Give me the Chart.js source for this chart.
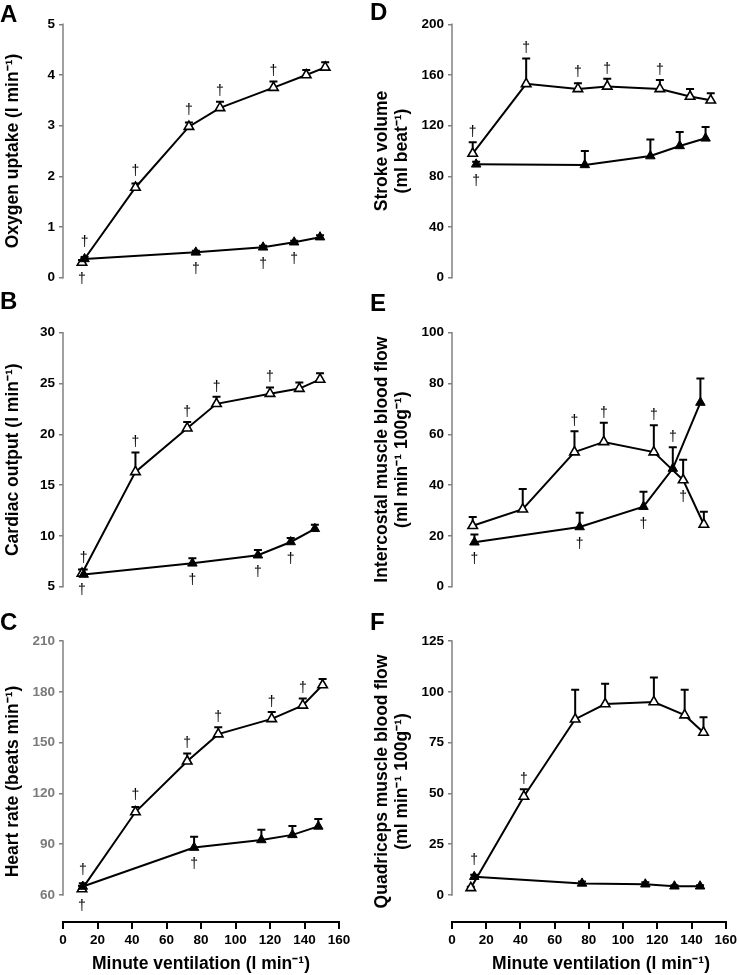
<!DOCTYPE html>
<html>
<head>
<meta charset="utf-8">
<script src="https://cdn.jsdelivr.net/npm/chart.js@4.4.1/dist/chart.umd.min.js"></script>
<style>
  html, body { margin: 0; padding: 0; background: #fff; }
  #fig { position: relative; width: 740px; height: 975px; overflow: hidden; font-family: "Liberation Sans", Arial, sans-serif; }
  canvas { position: absolute; }
  .letter { position: absolute; font-weight: bold; font-size: 24px; line-height: 1; color: #000; }
</style>
</head>
<body>
<div id="fig">
  <canvas id="chartA" width="370" height="300" style="left:0;top:0"></canvas>
  <canvas id="chartB" width="370" height="320" style="left:0;top:300px"></canvas>
  <canvas id="chartC" width="370" height="355" style="left:0;top:620px"></canvas>
  <canvas id="chartD" width="370" height="300" style="left:370px;top:0"></canvas>
  <canvas id="chartE" width="370" height="320" style="left:370px;top:300px"></canvas>
  <canvas id="chartF" width="370" height="355" style="left:370px;top:620px"></canvas>
  <div class="letter" style="left:0;top:2px">A</div>
  <div class="letter" style="left:0;top:289px">B</div>
  <div class="letter" style="left:0;top:610px">C</div>
  <div class="letter" style="left:370px;top:0">D</div>
  <div class="letter" style="left:370px;top:291px">E</div>
  <div class="letter" style="left:370px;top:610px">F</div>
</div>
<script>
const ventTicks = [0, 20, 40, 60, 80, 100, 120, 140, 160];

// A: oxygen uptake
const vo2Ticks = [0, 1, 2, 3, 4, 5];
const vo2ExVE = [11, 42, 73, 91, 122, 141, 152];
const vo2Ex = [0.3, 1.78, 2.98, 3.35, 3.75, 4.0, 4.15];
const vo2ExSd = [0.05, 0.08, 0.08, 0.12, 0.12, 0.1, 0.1];
const vo2HyVE = [12.5, 77, 116, 134, 149];
const vo2Hy = [0.37, 0.5, 0.6, 0.7, 0.8];
const vo2HySd = [0.04, 0.03, 0.03, 0.03, 0.04];
const vo2Sig = [["hy", 0, "up"], ["ex", 1, "up"], ["ex", 2, "up"], ["ex", 3, "up"], ["ex", 4, "up"],
  ["ex", 0, "down"], ["hy", 1, "down"], ["hy", 2, "down"], ["hy", 3, "down"]];

// B: cardiac output
const coTicks = [5, 10, 15, 20, 25, 30];
const coExVE = [11, 42, 72, 89, 120, 137, 149];
const coEx = [6.3, 16.3, 20.6, 23.0, 24.0, 24.5, 25.4];
const coExSd = [0.4, 1.9, 0.6, 0.7, 0.6, 0.6, 0.6];
const coHyVE = [12, 75, 113, 132, 146];
const coHy = [6.2, 7.3, 8.1, 9.4, 10.7];
const coHySd = [0.5, 0.5, 0.5, 0.4, 0.4];
const coSig = [["hy", 0, "up"], ["ex", 1, "up"], ["ex", 2, "up"], ["ex", 3, "up"], ["ex", 4, "up"],
  ["ex", 0, "down"], ["hy", 1, "down"], ["hy", 2, "down"], ["hy", 3, "down"]];

// C: heart rate
const hrTicks = [60, 90, 120, 150, 180, 210];
const hrExVE = [11, 42, 72, 90, 121, 139, 150.5];
const hrEx = [63.5, 109, 139, 155, 164, 172, 184];
const hrExSd = [2, 3, 4.5, 4, 4, 4, 3.5];
const hrHyVE = [11.5, 76, 115, 133, 148];
const hrHy = [65, 88, 92.5, 95.5, 100.5];
const hrHySd = [2, 6.4, 6, 5.3, 4.4];
const hrSig = [["hy", 0, "up"], ["ex", 1, "up"], ["ex", 2, "up"], ["ex", 3, "up"], ["ex", 4, "up"], ["ex", 5, "up"],
  ["ex", 0, "down"], ["hy", 1, "down"]];

// D: stroke volume
const svTicks = [0, 40, 80, 120, 160, 200];
const svExVE = [12, 43, 73, 90, 120.5, 138, 150];
const svEx = [98, 153, 149, 151, 149, 143, 140];
const svExSd = [9, 20, 4.5, 6, 7, 6, 5.5];
const svHyVE = [14, 77, 115, 132, 147];
const svHy = [89.5, 89, 96, 104, 110];
const svHySd = [2, 11, 13, 11, 9];
const svSig = [["ex", 0, "up"], ["ex", 1, "up"], ["ex", 2, "up"], ["ex", 3, "up"], ["ex", 4, "up"],
  ["hy", 0, "down"]];

// E: intercostal muscle blood flow
const icTicks = [0, 20, 40, 60, 80, 100];
const icExVE = [12, 41, 71, 88, 117, 134, 146];
const icEx = [24, 30.5, 53, 57, 53, 42, 24.5];
const icExSd = [3.4, 8, 8.2, 7.5, 10.6, 8, 5];
const icHyVE = [13, 74, 111, 128, 144];
const icHy = [17.5, 23.5, 31.5, 46.5, 72.5];
const icHySd = [3.1, 5.6, 5.9, 8.4, 9.5];
const icSig = [["ex", 2, "up"], ["ex", 3, "up"], ["ex", 4, "up"], ["hy", 3, "up"],
  ["hy", 0, "down"], ["hy", 1, "down"], ["hy", 2, "down"], ["ex", 5, "down"]];

// F: quadriceps muscle blood flow
const qdTicks = [0, 25, 50, 75, 100, 125];
const qdExVE = [11, 42, 72, 89.5, 118, 136, 147];
const qdEx = [3.5, 48.5, 86.5, 94, 95, 88.5, 80];
const qdExSd = [0.5, 3.5, 14.5, 10, 12, 12.5, 7.5];
const qdHyVE = [13, 76, 113, 130, 145];
const qdHy = [9, 5.7, 5.3, 4.3, 4.3];
const qdHySd = [1, 1, 1, 0.5, 0.5];
const qdSig = [["hy", 0, "up"], ["ex", 1, "up"]];

const FONT = '"Liberation Sans", Arial, sans-serif';
const pairs = (xs, ys) => xs.map((x, i) => ({ x, y: ys[i] }));
const RADIUS = 5.5;
const X_TITLE = "Minute ventilation (l min\u207B\u00B9)";

// y axis line only between first and last tick
const yAxisLine = {
  id: "yAxisLine",
  beforeDatasetsDraw(chart) {
    const ys = chart.scales.y, ctx = chart.ctx;
    const t = ys.ticks;
    const x = chart.chartArea.left;
    ctx.save();
    ctx.strokeStyle = "#808080";
    ctx.lineWidth = 1.5;
    ctx.beginPath();
    ctx.moveTo(x, ys.getPixelForValue(t[0].value) + 0.75);
    ctx.lineTo(x, ys.getPixelForValue(t[t.length - 1].value) - 0.75);
    ctx.stroke();
    ctx.restore();
  }
};

// upper SD bars
const errorBars = {
  id: "errorBars",
  beforeDatasetsDraw(chart) {
    const ctx = chart.ctx, ys = chart.scales.y;
    ctx.save();
    ctx.strokeStyle = "#000";
    ctx.lineWidth = 2;
    chart.data.datasets.forEach((ds, i) => {
      chart.getDatasetMeta(i).data.forEach((pt, j) => {
        const e = ds.errors[j];
        if (!e) return;
        const top = ys.getPixelForValue(ds.data[j].y + e);
        ctx.beginPath();
        ctx.moveTo(pt.x, pt.y);
        ctx.lineTo(pt.x, top);
        ctx.moveTo(pt.x - 4, top);
        ctx.lineTo(pt.x + 4, top);
        ctx.stroke();
      });
    });
    ctx.restore();
  }
};

// significance daggers
const daggers = {
  id: "daggers",
  afterDatasetsDraw(chart, args, opts) {
    const ctx = chart.ctx, ys = chart.scales.y;
    ctx.save();
    ctx.fillStyle = "#000";
    ctx.font = "14px " + FONT;
    ctx.textAlign = "center";
    ctx.textBaseline = "middle";
    (opts.marks || []).forEach(([series, idx, dir]) => {
      const di = series === "hy" ? 0 : 1;
      const ds = chart.data.datasets[di];
      const pt = chart.getDatasetMeta(di).data[idx];
      let cy;
      if (dir === "up") {
        const errTop = ys.getPixelForValue(ds.data[idx].y + (ds.errors[idx] || 0));
        cy = Math.min(errTop, pt.y - RADIUS - 1) - 10;
      } else {
        cy = pt.y + 17;
      }
      ctx.fillText("\u2020", pt.x, cy);
    });
    ctx.restore();
  }
};

const rows = [
  { top: 24.3, bottom: 22.3, xAxis: false },
  { top: 32.7, bottom: 33.3, xAxis: false },
  { top: 21, bottom: 0, xAxis: true }
];

const panels = [
  { id: "chartA", side: "left", row: 0, title: "Oxygen uptake (l min\u207B\u00B9)", ticks: vo2Ticks,
    ex: [vo2ExVE, vo2Ex, vo2ExSd], hy: [vo2HyVE, vo2Hy, vo2HySd], sig: vo2Sig },
  { id: "chartB", side: "left", row: 1, title: "Cardiac output (l min\u207B\u00B9)", ticks: coTicks,
    ex: [coExVE, coEx, coExSd], hy: [coHyVE, coHy, coHySd], sig: coSig },
  { id: "chartC", side: "left", row: 2, title: "Heart rate (beats min\u207B\u00B9)", ticks: hrTicks, tickColor: "#7a7a7a",
    ex: [hrExVE, hrEx, hrExSd], hy: [hrHyVE, hrHy, hrHySd], sig: hrSig },
  { id: "chartD", side: "right", row: 0, title: ["Stroke volume", "(ml beat\u207B\u00B9)"], ticks: svTicks,
    ex: [svExVE, svEx, svExSd], hy: [svHyVE, svHy, svHySd], sig: svSig },
  { id: "chartE", side: "right", row: 1, title: ["Intercostal muscle blood flow", "(ml min\u207B\u00B9 100g\u207B\u00B9)"], ticks: icTicks,
    ex: [icExVE, icEx, icExSd], hy: [icHyVE, icHy, icHySd], sig: icSig },
  { id: "chartF", side: "right", row: 2, title: ["Quadriceps muscle blood flow", "(ml min\u207B\u00B9 100g\u207B\u00B9)"], ticks: qdTicks,
    ex: [qdExVE, qdEx, qdExSd], hy: [qdHyVE, qdHy, qdHySd], sig: qdSig }
];

function makeChart(p) {
  const row = rows[p.row];
  const leftW = p.side === "left" ? 63 : 82;
  const padRight = p.side === "left" ? 31 : 12;
  const first = p.ticks[0], last = p.ticks[p.ticks.length - 1];
  // bottom row: x axis sits 27px below the lowest y tick
  const yMin = row.xAxis ? first - (last - first) * 27 / 254 : first;
  const twoLine = Array.isArray(p.title);
  // the right-hand x title sits a little right of centre in the original
  const xTitle = p.side === "right" ? "\u00A0\u00A0\u00A0\u00A0\u00A0" + X_TITLE : X_TITLE;

  new Chart(document.getElementById(p.id), {
    type: "scatter",
    data: {
      datasets: [
        {
          label: "Hyperpnoea",
          data: pairs(p.hy[0], p.hy[1]),
          errors: p.hy[2],
          showLine: true,
          borderColor: "#000",
          borderWidth: 2,
          pointStyle: "triangle",
          pointRadius: RADIUS,
          pointBackgroundColor: "#000",
          pointBorderColor: "#000",
          pointBorderWidth: 1,
          clip: false
        },
        {
          label: "Exercise",
          data: pairs(p.ex[0], p.ex[1]),
          errors: p.ex[2],
          showLine: true,
          borderColor: "#000",
          borderWidth: 2,
          pointStyle: "triangle",
          pointRadius: RADIUS,
          pointBackgroundColor: "#fff",
          pointBorderColor: "#000",
          pointBorderWidth: 1.6,
          clip: false
        }
      ]
    },
    options: {
      responsive: false,
      animation: false,
      events: [],
      layout: { padding: { left: 0, right: padRight, top: row.top, bottom: row.bottom } },
      plugins: {
        legend: { display: false },
        tooltip: { enabled: false },
        daggers: { marks: p.sig }
      },
      scales: {
        x: {
          type: "linear",
          min: 0,
          max: 160,
          display: row.xAxis,
          afterBuildTicks: (s) => { s.ticks = ventTicks.map(v => ({ value: v })); },
          afterFit: (s) => { if (row.xAxis) s.height = 53; },
          border: { display: true, color: "#000", width: 2 },
          grid: { drawOnChartArea: false, drawTicks: true, tickLength: 7, color: "#000", lineWidth: 2 },
          ticks: { color: "#000", padding: 3, autoSkip: false, maxRotation: 0,
            font: { family: FONT, size: 13.5, weight: "bold" } },
          title: { display: true, text: xTitle, color: "#000",
            padding: { top: 0, bottom: 0 },
            font: { family: FONT, size: 17.5, weight: "bold", lineHeight: 1.2 } }
        },
        y: {
          type: "linear",
          min: yMin,
          max: last,
          afterBuildTicks: (s) => { s.ticks = p.ticks.map(v => ({ value: v })); },
          afterFit: (s) => { s.width = leftW; },
          border: { display: false },
          grid: { drawOnChartArea: false, drawTicks: true, tickLength: 4, color: "#808080", lineWidth: 1.5 },
          ticks: { color: p.tickColor || "#000", padding: 4, autoSkip: false,
            font: { family: FONT, size: 13.5, weight: "bold" } },
          title: { display: true, text: p.title, color: "#000",
            padding: { top: twoLine ? 2 : 3, bottom: 0 },
            font: { family: FONT, size: 17.5, weight: "bold", lineHeight: twoLine ? 1.15 : 1.2 } }
        }
      }
    },
    plugins: [yAxisLine, errorBars, daggers]
  });
}

panels.forEach(makeChart);
</script>
</body>
</html>
